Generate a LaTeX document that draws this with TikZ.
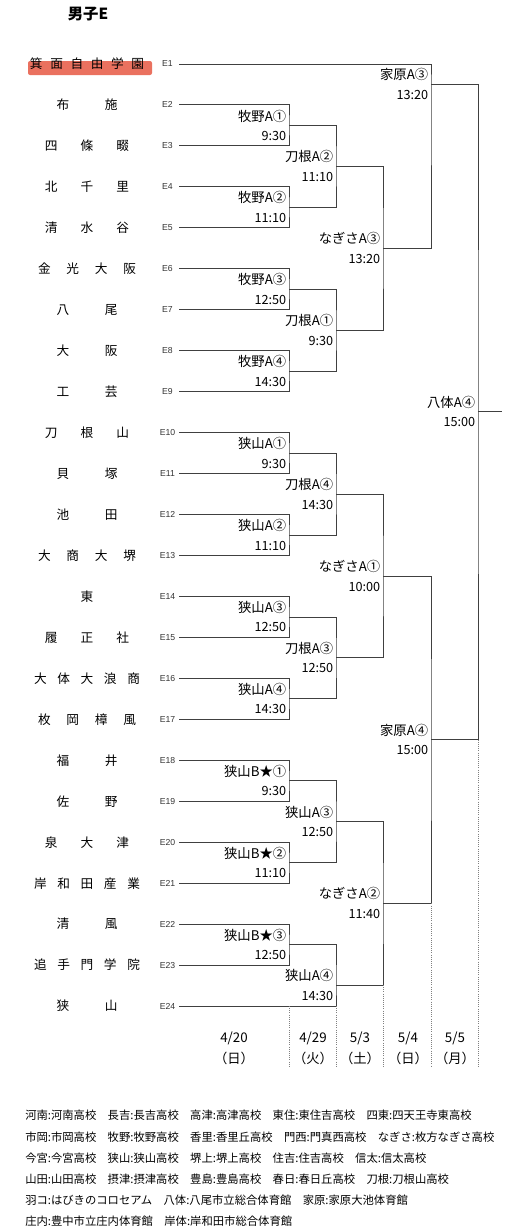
\documentclass[tikz,border=0pt]{standalone}
\usepackage{fontspec}
\usepackage{xcolor}
\usepackage{tikz}
\setmainfont{Noto Sans CJK JP}
\newfontfamily\efont{Liberation Sans}
\newfontfamily\dayfont[RawFeature=+halt]{Noto Sans CJK JP}
\definecolor{marker}{RGB}{232,98,78}

\begin{document}
\begin{tikzpicture}[x=0.75pt,y=-0.75pt,
  bline/.style={black!75,line width=0.7pt},
  sched/.style={gray,densely dotted,line width=0.6pt},
  team/.style={font=\fontsize{9.5}{11}\selectfont,inner sep=0pt},
  elab/.style={font=\efont\fontsize{6.5}{7}\selectfont,text=black!80,minimum width=17.25pt,inner sep=0pt},
  venue/.style={font=\fontsize{10}{12}\selectfont,anchor=east,inner sep=0pt},
  hour/.style={font=\fontsize{9.5}{11}\selectfont,anchor=east,inner sep=0pt},
  day/.style={font=\dayfont\fontsize{10}{12}\selectfont,inner sep=0pt},
  note/.style={font=\fontsize{8.5}{10}\selectfont,anchor=west,inner sep=0pt}]
  \useasboundingbox (0,0) rectangle (509,1229);

  \node[font=\bfseries\fontsize{11.5}{13}\selectfont] (title) at (88,14) {男子E};

  % teams and entry numbers
  \fill[marker,opacity=0.9,rounded corners=1.5pt] (28,61) rectangle (152,75);
  \foreach \i/\w/\name in {1/85.5/箕\hfill 面\hfill 自\hfill 由\hfill 学\hfill 園,
      2/45.75/布\hfill 施, 3/63/四\hfill 條\hfill 畷, 4/63/北\hfill 千\hfill 里,
      5/63/清\hfill 水\hfill 谷, 6/73.5/金\hfill 光\hfill 大\hfill 阪, 7/45.75/八\hfill 尾,
      8/45.75/大\hfill 阪, 9/45.75/工\hfill 芸, 10/63/刀\hfill 根\hfill 山,
      11/45.75/貝\hfill 塚, 12/45.75/池\hfill 田, 13/73.5/大\hfill 商\hfill 大\hfill 堺,
      14/10/\hfill 東\hfill, 15/63/履\hfill 正\hfill 社, 16/79.5/大\hfill 体\hfill 大\hfill 浪\hfill 商,
      17/73.5/枚\hfill 岡\hfill 樟\hfill 風, 18/45.75/福\hfill 井, 19/45.75/佐\hfill 野,
      20/63/泉\hfill 大\hfill 津, 21/79.5/岸\hfill 和\hfill 田\hfill 産\hfill 業,
      22/45.75/清\hfill 風, 23/79.5/追\hfill 手\hfill 門\hfill 学\hfill 院, 24/45.75/狭\hfill 山}{
    \node[team] (t\i) at (87,{64+(\i-1)*40.96}) {\makebox[\w pt][s]{\name}};
    \node[elab] (e\i) at (167.5,{64+(\i-1)*40.96}) {E\i};
  }

  % match points, venue and time
  \foreach \n/\x/\y/\lab/\hr in {a1/289/125.44/牧野A①/9:30, a2/289/207.36/牧野A②/11:10,
      a3/289/289.28/牧野A③/12:50, a4/289/371.2/牧野A④/14:30,
      a5/289/453.12/狭山A①/9:30, a6/289/535.04/狭山A②/11:10,
      a7/289/616.96/狭山A③/12:50, a8/289/698.88/狭山A④/14:30,
      a9/289/780.8/狭山B★①/9:30, a10/289/862.72/狭山B★②/11:10,
      a11/289/944.64/狭山B★③/12:50,
      b1/336/166.4/刀根A②/11:10, b2/336/330.24/刀根A①/9:30,
      b3/336/494.08/刀根A④/14:30, b4/336/657.92/刀根A③/12:50,
      b5/336/821.76/狭山A③/12:50, b6/336/985/狭山A④/14:30,
      c1/383/248.32/なぎさA③/13:20, c2/383/576/なぎさA①/10:00,
      c3/383/903.4/なぎさA②/11:40,
      d1/431/84/家原A③/13:20, d2/431/739.7/家原A④/15:00,
      fin/478/411.85/八体A④/15:00}{
    \coordinate (\n) at (\x,\y);
    \node[venue] (\n v) at (\x-2.5,\y-9.5) {\lab};
    \node[hour] (\n t) at (\x-2.5,\y+10.5) {\hr};
  }
  \coordinate (out) at (502,411.85);
  \coordinate (base) at (0,1067);

  % first round
  \draw[bline] (e2.east) -| (a1) |- (e3.east);
  \draw[bline] (e4.east) -| (a2) |- (e5.east);
  \draw[bline] (e6.east) -| (a3) |- (e7.east);
  \draw[bline] (e8.east) -| (a4) |- (e9.east);
  \draw[bline] (e10.east) -| (a5) |- (e11.east);
  \draw[bline] (e12.east) -| (a6) |- (e13.east);
  \draw[bline] (e14.east) -| (a7) |- (e15.east);
  \draw[bline] (e16.east) -| (a8) |- (e17.east);
  \draw[bline] (e18.east) -| (a9) |- (e19.east);
  \draw[bline] (e20.east) -| (a10) |- (e21.east);
  \draw[bline] (e22.east) -| (a11) |- (e23.east);
  % later rounds
  \draw[bline] (a1) -| (b1) |- (a2);
  \draw[bline] (a3) -| (b2) |- (a4);
  \draw[bline] (a5) -| (b3) |- (a6);
  \draw[bline] (a7) -| (b4) |- (a8);
  \draw[bline] (a9) -| (b5) |- (a10);
  \draw[bline] (a11) -| (b6) |- (e24.east);
  \draw[bline] (b1) -| (c1) |- (b2);
  \draw[bline] (b3) -| (c2) |- (b4);
  \draw[bline] (b5) -| (c3) |- (b6);
  \draw[bline] (e1.east) -| (d1) |- (c1);
  \draw[bline] (c2) -| (d2) |- (c3);
  \draw[bline] (d1) -| (fin) |- (d2);
  \draw[bline] (fin) -- (out);

  % day columns
  \draw[sched] (a11 |- e24) -- (a11 |- base);
  \draw[sched] (b6 |- e24) -- (b6 |- base);
  \draw[sched] (c3 |- b6) -- (c3 |- base);
  \draw[sched] (d2 |- c3) -- (d2 |- base);
  \draw[sched] (fin |- d2) -- (fin |- base);

  \node[day] (date1) at (234,1038) {4/20};
  \node[day] (date2) at (313,1038) {4/29};
  \node[day] (date3) at (360,1038) {5/3};
  \node[day] (date4) at (408,1038) {5/4};
  \node[day] (date5) at (455,1038) {5/5};
  \node[day] (wd1) at (234,1058) {（日）};
  \node[day] (wd2) at (313,1058) {（火）};
  \node[day] (wd3) at (360,1058) {（土）};
  \node[day] (wd4) at (408,1058) {（日）};
  \node[day] (wd5) at (455,1058) {（月）};

  % abbreviations
  \node[note] (n1) at (25,1115) {河南:河南高校　長吉:長吉高校　高津:高津高校　東住:東住吉高校　四東:四天王寺東高校};
  \node[note] (n2) at (25,1137) {市岡:市岡高校　牧野:牧野高校　香里:香里丘高校　門西:門真西高校　なぎさ:枚方なぎさ高校};
  \node[note] (n3) at (25,1158) {今宮:今宮高校　狭山:狭山高校　堺上:堺上高校　住吉:住吉高校　信太:信太高校};
  \node[note] (n4) at (25,1179) {山田:山田高校　摂津:摂津高校　豊島:豊島高校　春日:春日丘高校　刀根:刀根山高校};
  \node[note] (n5) at (25,1200) {羽コ:はびきのコロセアム　八体:八尾市立総合体育館　家原:家原大池体育館};
  \node[note] (n6) at (25,1221) {庄内:豊中市立庄内体育館　岸体:岸和田市総合体育館};
\end{tikzpicture}
\end{document}
